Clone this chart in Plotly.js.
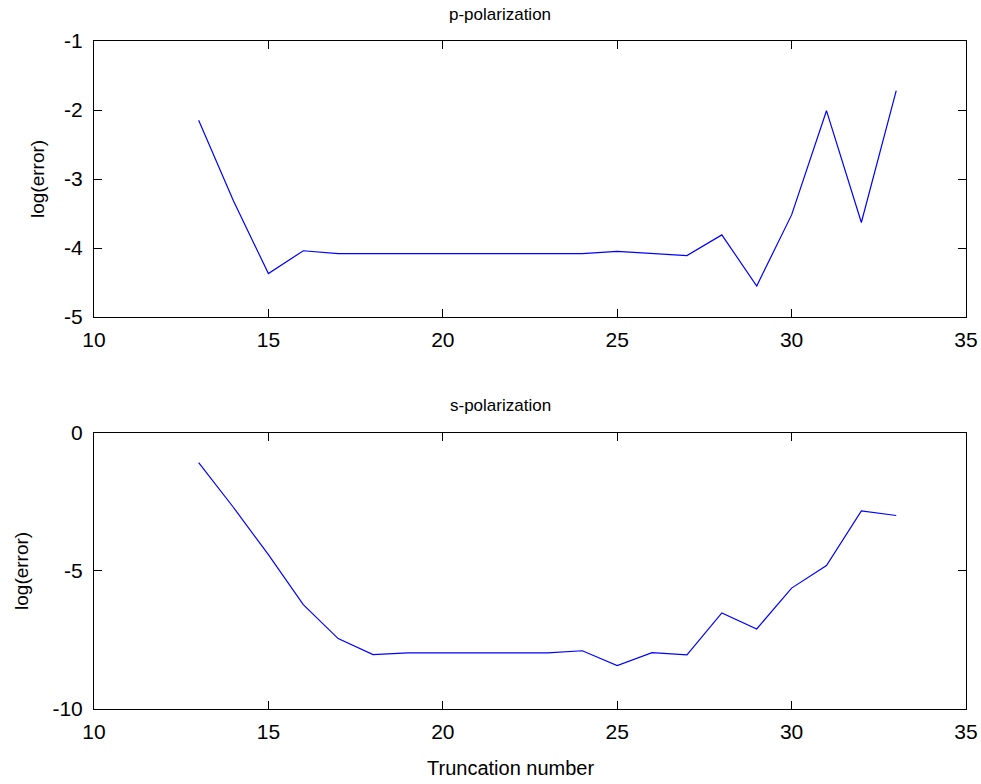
<!DOCTYPE html>
<html>
<head>
<meta charset="utf-8">
<script src="https://cdn.plot.ly/plotly-3.0.1.min.js"></script>
<style>html,body{margin:0;padding:0;background:#fff;}#chart{width:981px;height:784px;}</style>
</head>
<body>
<div id="chart"></div>
<script>
var truncation = [13,14,15,16,17,18,19,20,21,22,23,24,25,26,27,28,29,30,31,32,33];
var pError = [-2.15,-3.32,-4.37,-4.04,-4.08,-4.08,-4.08,-4.08,-4.08,-4.08,-4.08,-4.08,-4.05,-4.08,-4.11,-3.81,-4.55,-3.52,-2.01,-3.63,-1.72];
var sError = [-1.07,-2.70,-4.41,-6.22,-7.45,-8.03,-7.97,-7.97,-7.97,-7.97,-7.97,-7.89,-8.43,-7.96,-8.04,-6.52,-7.10,-5.62,-4.80,-2.82,-2.99];
var xTicks = [10,15,20,25,30,35];
var pTicks = [-5,-4,-3,-2,-1];
var sTicks = [-10,-5,0];

var font = 'Liberation Sans, Arial, sans-serif';
var traces = [
  {x: truncation, y: pError, xaxis: 'x', yaxis: 'y', mode: 'lines', line: {color: '#0000ff', width: 1.2}, hoverinfo: 'none'},
  {x: truncation, y: sError, xaxis: 'x2', yaxis: 'y2', mode: 'lines', line: {color: '#0000ff', width: 1.2}, hoverinfo: 'none'}
];
function xa(anchor){
  return {anchor: anchor, range: [10,35], tickvals: xTicks, ticktext: xTicks.map(String), ticks: 'inside', ticklen: 8, tickcolor: '#000', tickwidth: 1,
    showline: true, linecolor: '#000', linewidth: 1, mirror: 'ticks', showgrid: false, zeroline: false,
    tickfont: {family: font, size: 21, color: '#000'}, ticklabelstandoff: 4};
}
function ya(anchor, range, vals, dom){
  return {anchor: anchor, domain: dom, range: range, tickvals: vals, ticktext: vals.map(String), ticks: 'inside', ticklen: 8, tickcolor: '#000', tickwidth: 1,
    showline: true, linecolor: '#000', linewidth: 1, mirror: 'ticks', showgrid: false, zeroline: false,
    tickfont: {family: font, size: 21, color: '#000'}, ticklabelstandoff: 6};
}
var layout = {
  width: 981, height: 784,
  margin: {l: 94, r: 15, t: 41, b: 75},
  paper_bgcolor: '#fff', plot_bgcolor: '#fff',
  showlegend: false,
  xaxis: xa('y'),
  yaxis: ya('x', [-5,-1], pTicks, [0.5868, 1]),
  xaxis2: xa('y2'),
  yaxis2: ya('x2', [-10,0], sTicks, [0, 0.4132]),
  annotations: [
    {text: 'p-polarization', xref: 'paper', yref: 'paper', x: 0.4656, y: 1.04, xanchor: 'center', yanchor: 'middle', showarrow: false, font: {family: font, size: 17, color: '#000'}},
    {text: 's-polarization', xref: 'paper', yref: 'paper', x: 0.4656, y: 0.454, xanchor: 'center', yanchor: 'middle', showarrow: false, font: {family: font, size: 17, color: '#000'}},
    {text: 'Truncation number', xref: 'paper', yref: 'paper', x: 0.478, y: -0.089, xanchor: 'center', yanchor: 'middle', showarrow: false, font: {family: font, size: 20, color: '#000'}},
    {text: 'log(error)', xref: 'paper', yref: 'paper', x: -0.0654, y: 0.7934, xanchor: 'center', yanchor: 'middle', textangle: -90, showarrow: false, font: {family: font, size: 19, color: '#000'}},
    {text: 'log(error)', xref: 'paper', yref: 'paper', x: -0.0826, y: 0.2066, xanchor: 'center', yanchor: 'middle', textangle: -90, showarrow: false, font: {family: font, size: 19, color: '#000'}}
  ]
};
Plotly.newPlot('chart', traces, layout, {displayModeBar: false, staticPlot: true});
</script>
</body>
</html>
